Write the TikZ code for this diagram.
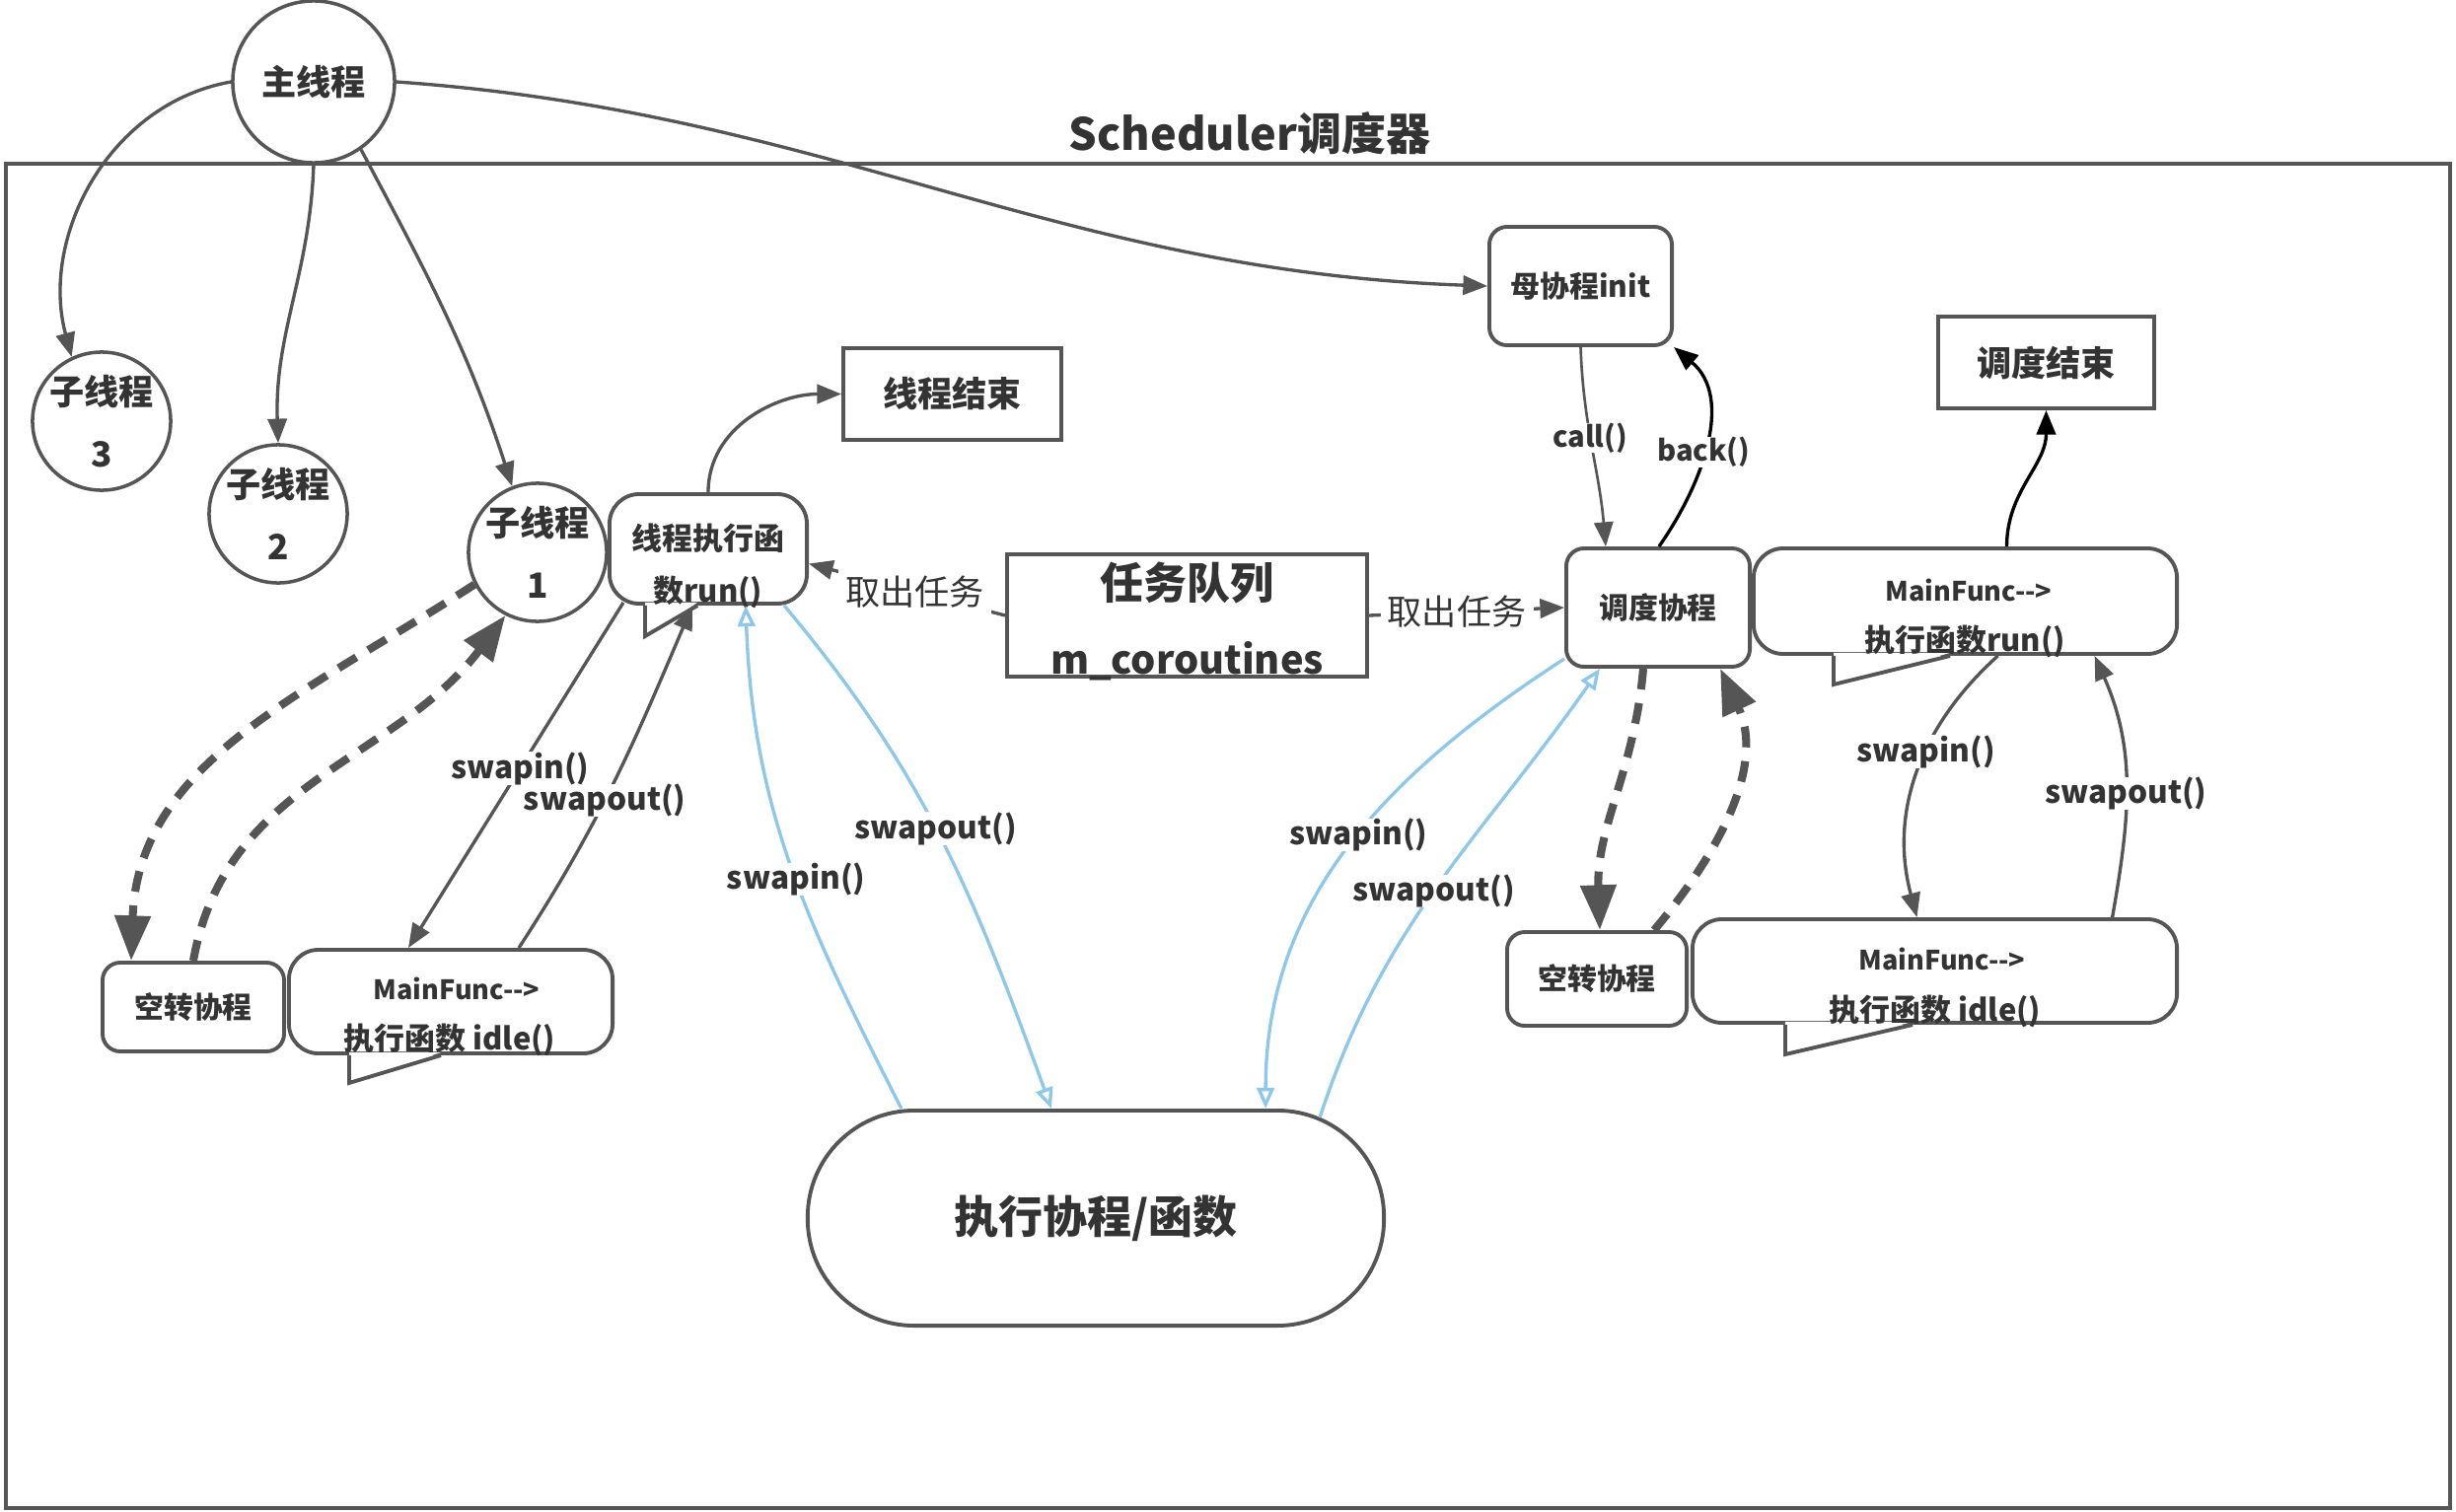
\documentclass[tikz,border=0pt]{standalone}
\usepackage{fontspec}
\setmainfont{Noto Sans CJK SC}
\usetikzlibrary{shapes,arrows.meta,positioning}
\definecolor{linegray}{HTML}{555555}
\definecolor{txtgray}{HTML}{333333}
\definecolor{swapblue}{HTML}{8DC8EA}

\begin{document}
\begin{tikzpicture}[x=.01cm,y=-.01cm,
	every node/.style={text=txtgray},
	plainbox/.style={draw=linegray,line width=1.1pt,fill=white,inner sep=0pt,font=\bfseries\fontsize{10}{12}\selectfont},
	roundbox/.style={plainbox,rounded corners=.18cm,font=\bfseries\fontsize{8.5}{10}\selectfont},
	callbox/.style={draw=linegray,line width=1.1pt,fill=white,rounded corners=.3cm},
	calltail/.style={draw=linegray,line width=1.1pt},
	thread/.style={circle,draw=linegray,line width=1pt,fill=white,minimum size=1.4cm,inner sep=-2pt,align=center,font=\bfseries\fontsize{10}{18}\selectfont},
	calltext/.style={font=\bfseries\fontsize{8.8}{15}\selectfont,align=center},
	functext/.style={font=\bfseries\fontsize{7.7}{10}\selectfont},
	conn/.style={draw=linegray,line width=.95pt,-{Triangle[length=7pt,width=5.5pt]}},
	blk/.style={draw=black,line width=.95pt,-{Triangle[length=7pt,width=5.5pt]}},
	swapline/.style={draw=swapblue,line width=.95pt,-{Triangle[open,length=6pt,width=5pt]}},
	idledash/.style={draw=linegray,line width=2.3pt,dash pattern=on 6pt off 4pt,-{Triangle[length=13pt,width=10pt]}},
	lbl/.style={fill=white,inner sep=0pt,font=\bfseries\fontsize{9}{11}\selectfont},
	take/.style={fill=white,inner sep=2pt,font=\fontsize{10}{12}\selectfont}]
			\useasboundingbox (0,0) rectangle (2490,1533);
			\draw[linegray,line width=1pt] (6,166) rectangle (2484,1529);
			\node[font=\bfseries\fontsize{12.8}{15}\selectfont] (title) at (1267,135) {Scheduler调度器};
			\node[thread,minimum size=1.64cm,font=\bfseries\fontsize{10}{12}\selectfont] (main) at (318,83) {主线程};
			\foreach \n/\x/\y in {3/103/427,2/282/521,1/545/560} \node[thread] (t\n) at (\x,\y) {子线程\\\n};
			\node[callbox,minimum width=2cm,minimum height=1.11cm] (run) at (718,556.5) {};
			\node[plainbox,minimum width=2.21cm,minimum height=.93cm] (end1) at (965.5,399.5) {线程结束};
			\node[plainbox,minimum width=3.65cm,minimum height=1.24cm] (queue) at (1203.5,624) {};
			\node[align=center,font=\bfseries\fontsize{12.5}{21.6}\selectfont] (queuetxt) at (1203.5,630) {任务队列\\{\fontsize{11.3}{21.6}\selectfont m\_coroutines}};
			\node[roundbox,minimum width=1.85cm,minimum height=1.2cm] (mother) at (1602.5,290) {母协程init};
			\node[roundbox,minimum width=1.86cm,minimum height=1.2cm] (sched) at (1681,616) {调度协程};
			\node[plainbox,minimum width=2.19cm,minimum height=.93cm] (end2) at (2074.5,367.5) {调度结束};
			\node[callbox,minimum width=4.29cm,minimum height=1.07cm] (runR) at (1992.5,609.5) {};
			\node[callbox,minimum width=4.91cm,minimum height=1.05cm] (idleR) at (1961.5,984.5) {};
			\node[roundbox,minimum width=1.82cm,minimum height=.95cm] (idleRbox) at (1619,992.5) {空转协程};
			\node[plainbox,rounded corners=1.08cm,minimum width=5.84cm,minimum height=2.18cm,font=\bfseries\fontsize{12.8}{14}\selectfont] (exec) at (1111,1235) {执行协程/函数};
			\node[roundbox,minimum width=1.84cm,minimum height=.9cm] (idleLbox) at (196,1021) {空转协程};
			\node[callbox,minimum width=3.28cm,minimum height=1.05cm] (idleL) at (457,1015.5) {};
			\foreach \c/\a/\b/\d in {run/.38/.91/.31,runR/.83/2.01/.29,idleR/.96/2.25/.3,idleL/.63/1.56/.28} {
				\fill[white] ([xshift=\a cm,yshift=.03cm]\c.south west) -- ([xshift=\a cm,yshift=-\d cm]\c.south west) -- ([xshift=\b cm,yshift=.03cm]\c.south west) -- cycle;
				\draw[calltail] ([xshift=\a cm]\c.south west) -- ([xshift=\a cm,yshift=-\d cm]\c.south west) -- ([xshift=\b cm]\c.south west);
			}
			\node[calltext] (runtxt) at (718,574) {线程执行函\\数run()};
			\node[functext] (runRa) at (1996,598) {MainFunc-{}->};
			\node[calltext] (runRb) at (1992,650) {执行函数run()};
			\node[functext] (idleRa) at (1969,972) {MainFunc-{}->};
			\node[calltext] (idleRb) at (1962,1025) {执行函数 idle()};
			\node[functext] (idleLa) at (463,1002) {MainFunc-{}->};
			\node[calltext] (idleLb) at (456,1054) {执行函数 idle()};
			\draw[conn] (main.west) to[out=190,in=105] (t3.115);
			\draw[conn] (main.south) to[out=-92,in=92] (t2.north);
			\draw[conn] (main.-55) to[out=-62,in=108] (t1.111);
			\draw[conn] (main.east) to[out=-4,in=178] (mother.west);
			\draw[conn] (run.north) to[out=90,in=180] (end1.west);
			\draw[conn] (queue.west) -- node[take,pos=.46] (take1) {取出任务} ([yshift=-.15cm]run.east);
			\draw[conn] (queue.east) -- node[take,pos=.45] (take2) {取出任务} (sched.west);
			\draw[conn,line width=.75pt] (mother.south) to[out=-88,in=95] node[lbl,pos=.45,font=\bfseries\fontsize{8.3}{10}\selectfont] (call) {call()} ([xshift=-.53cm]sched.north);
			\draw[blk] ([xshift=.01cm]sched.north) to[out=55,in=-40] node[lbl,pos=.45,font=\bfseries\fontsize{8.3}{10}\selectfont] (back) {back()} (mother.south east);
			\draw[blk] ([xshift=.42cm]runR.north) to[out=90,in=-90] (end2.south);
			\draw[conn] ([xshift=.33cm]runR.south) to[out=222,in=105] node[lbl,pos=.41] (swinR) {swapin()} ([xshift=-.18cm]idleR.north);
			\draw[conn] ([xshift=1.8cm]idleR.north) to[out=80,in=-66] node[lbl,pos=.46] (swoutR) {swapout()} ([xshift=1.31cm]runR.south);
			\draw[idledash] ([xshift=-.15cm]sched.south) to[out=-95,in=92] ([xshift=.03cm]idleRbox.north);
			\draw[idledash] ([xshift=.58cm]idleRbox.north) to[out=50,in=-65] ([xshift=.63cm]sched.south);
			\draw[swapline] ([yshift=.1cm]sched.south west) to[out=213,in=90] node[lbl,pos=.47] (swinE) {swapin()} ([xshift=1.72cm]exec.north);
			\draw[swapline] ([xshift=2.27cm,yshift=-.09cm]exec.north) to[out=72,in=235] node[lbl,pos=.48] (swoutE) {swapout()} ([xshift=-.59cm]sched.south);
			\draw[swapline] ([xshift=-1.97cm]exec.north) to[out=117,in=-88] node[lbl,pos=.47] (swinL) {swapin()} ([xshift=.38cm]run.south);
			\draw[swapline] ([xshift=.77cm]run.south) to[out=-50,in=110] node[lbl,pos=.47] (swoutL) {swapout()} ([xshift=-.45cm]exec.north);
			\draw[conn] ([xshift=.69cm]idleL.north) to[out=57,in=247] node[lbl,pos=.44] (swoutI) {swapout()} ([xshift=-.16cm]run.south);
			\draw[conn] ([xshift=-.86cm,yshift=.03cm]run.south) -- node[lbl,pos=.48] (swinI) {swapin()} ([xshift=-.43cm]idleL.north);
			\draw[idledash] (t1.207) to[out=213,in=88] ([xshift=-.63cm]idleLbox.north);
			\draw[idledash] (idleLbox.north) to[out=80,in=233] (t1.-117);
		\end{tikzpicture}
\end{document}
